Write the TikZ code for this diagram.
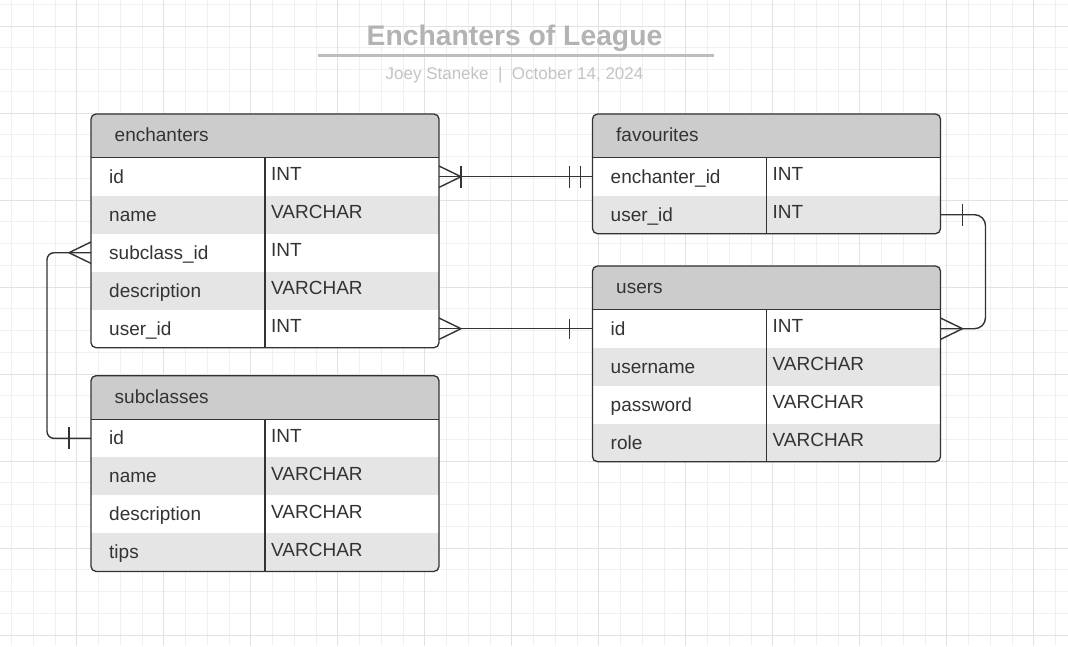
\documentclass[tikz,border=0pt]{standalone}
\usepackage{fontspec}
\setmainfont{Liberation Sans}
\usetikzlibrary{calc}
\definecolor{hdr}{HTML}{CCCCCC}
\definecolor{rowgrey}{HTML}{E5E5E5}
\definecolor{ink}{HTML}{333333}
\definecolor{gridminor}{HTML}{F0F0F0}
\definecolor{gridmajor}{HTML}{E2E2E2}
\definecolor{titlegrey}{HTML}{B3B3B3}
\definecolor{rulegrey}{HTML}{BDBDBD}
\definecolor{subgrey}{HTML}{C4C4C4}
\tikzset{
  tblline/.style={draw=ink, line width=1.3pt},
  conn/.style={draw=ink, line width=1.4pt},
  rowcell/.style={minimum width=348pt, minimum height=38pt, inner sep=0pt, outer sep=0pt, anchor=north west},
  hdrcell/.style={rowcell, minimum height=43.7pt, fill=hdr},
  fieldtxt/.style={anchor=base west, inner sep=0pt, text=ink, font=\fontsize{19}{22}\selectfont},
  hdrtxt/.style={fieldtxt},
  titletxt/.style={anchor=base, inner sep=0pt, text=titlegrey, font=\bfseries\fontsize{28.3}{34}\selectfont},
  subtxt/.style={anchor=base, inner sep=0pt, text=subgrey, font=\fontsize{17}{20}\selectfont},
  minorgrid/.style={draw=gridminor, line width=1pt},
  majorgrid/.style={draw=gridmajor, line width=1pt},
}
\newcommand\ertable[6]{%
  \pgfmathsetmacro\ertb{#3+43.7+38*#5}%
  \begin{scope}
    \clip[rounded corners=5pt] (#2,#3) rectangle (#2+348,\ertb);
    \fill[white] (#2,#3) rectangle (#2+348,\ertb);
    \node[hdrcell] (#1) at (#2,#3) {};
    \node[hdrtxt] (#1-title) at (#2+23.5,#3+27.9) {#4};
    \foreach \f/\t [count=\i] in {#6} {
      \pgfmathsetmacro\ry{#3+43.7+38*(\i-1)}
      \ifodd\i\relax \def\rf{white}\else \def\rf{rowgrey}\fi
      \node[rowcell, fill=\rf] (#1-\i) at (#2,\ry) {};
      \node[fieldtxt] (#1-\i-f) at (#2+18,\ry+25.3) {\f};
      \node[fieldtxt] (#1-\i-t) at (#2+180,\ry+23) {\t};
    }
  \end{scope}
  \draw[tblline] (#2,#3+43.7) -- (#2+348,#3+43.7);
  \draw[tblline] (#2+174,#3+43.7) -- (#2+174,\ertb);
  \draw[tblline, rounded corners=5pt] (#2,#3) rectangle (#2+348,\ertb);
}
\begin{document}
\begin{tikzpicture}[x=1pt,y=-1pt]
\useasboundingbox (0,0) rectangle (1068,646);
\fill[white] (0,0) rectangle (1068,646);
% grid
\foreach \i in {0,...,48} \draw[minorgrid] ({11.5+21.75*\i},0) -- ({11.5+21.75*\i},646);
\foreach \i in {0,...,29} \draw[minorgrid] (0,{4.25+21.75*\i}) -- (1068,{4.25+21.75*\i});
\foreach \i in {0,...,11} \draw[majorgrid] ({76.75+87*\i},0) -- ({76.75+87*\i},646);
\foreach \i in {0,...,7} \draw[majorgrid] (0,{26+87*\i}) -- (1068,{26+87*\i});
% title
\node[titletxt] (title) at (514.5,45) {Enchanters of League};
\coordinate (ruleL) at (318,55.7);
\coordinate (ruleR) at (714,55.7);
\draw[draw=rulegrey, line width=2.5pt] (ruleL) -- (ruleR);
\node[subtxt] (subtitle) at (514.5,79) {Joey Staneke~~|~~October 14, 2024};
% tables
\ertable{ench}{91}{114}{enchanters}{5}{id/INT, name/VARCHAR, subclass\_id/INT, description/VARCHAR, user\_id/INT}
\ertable{fav}{592.5}{114}{favourites}{2}{enchanter\_id/INT, user\_id/INT}
\ertable{users}{592.5}{266}{users}{4}{id/INT, username/VARCHAR, password/VARCHAR, role/VARCHAR}
\ertable{sub}{91}{375.7}{subclasses}{4}{id/INT, name/VARCHAR, description/VARCHAR, tips/VARCHAR}
% connector: enchanters.id -> favourites.enchanter_id
\draw[conn] (ench-1.east) -- (fav-1.west);
\draw[conn] ($(ench-1.east)+(0,-10.7)$) -- ($(ench-1.east)+(22,0)$) -- ($(ench-1.east)+(0,10.7)$);
\draw[conn] ($(ench-1.east)+(22,-11)$) -- ++(0,22);
\draw[conn] ($(fav-1.west)+(-23,-11)$) -- ++(0,22);
\draw[conn] ($(fav-1.west)+(-12,-11)$) -- ++(0,22);
% connector: enchanters.subclass_id -> subclasses.id
\draw[conn, rounded corners=7pt] (ench-3.west) -- ++(-44,0) |- (sub-1.west);
\draw[conn] ($(ench-3.west)+(0,-10.7)$) -- ($(ench-3.west)+(-22,0)$) -- ($(ench-3.west)+(0,10.7)$);
\draw[conn] ($(sub-1.west)+(-22,-11)$) -- ++(0,22);
% connector: enchanters.user_id -> users.id
\draw[conn] (ench-5.east) -- (users-1.west);
\draw[conn] ($(ench-5.east)+(0,-10.7)$) -- ($(ench-5.east)+(22,0)$) -- ($(ench-5.east)+(0,10.7)$);
\draw[conn] ($(users-1.west)+(-23,-10)$) -- ++(0,20);
% connector: favourites.user_id -> users.id
\draw[conn, rounded corners=11pt] (fav-2.east) -- ++(45,0) |- (users-1.east);
\draw[conn] ($(fav-2.east)+(22,-11)$) -- ++(0,22);
\draw[conn] ($(users-1.east)+(0,-10.7)$) -- ($(users-1.east)+(22,0)$) -- ($(users-1.east)+(0,10.7)$);
\end{tikzpicture}
\end{document}
